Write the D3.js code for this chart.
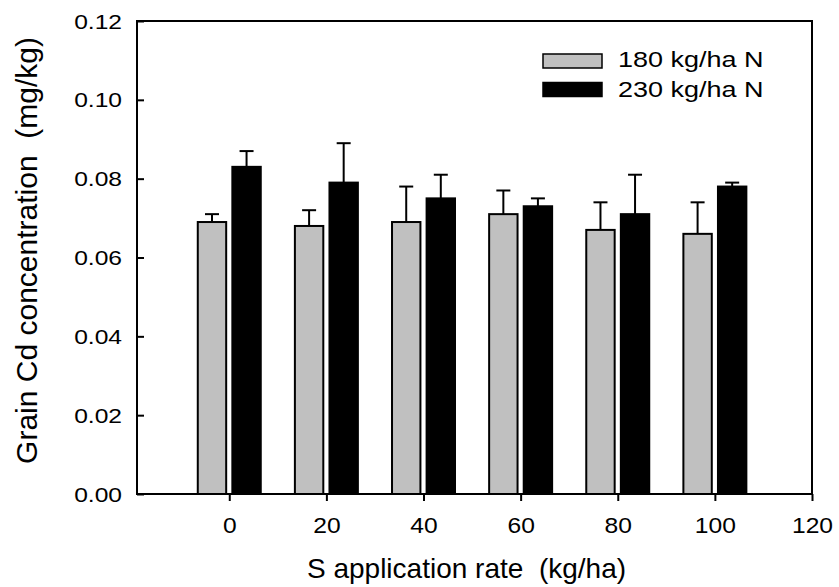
<!DOCTYPE html>
<html>
<head>
<meta charset="utf-8">
<script src="https://cdn.jsdelivr.net/npm/d3@7"></script>
<style>
  body { margin: 0; background: #fff; }
  text { font-family: "Liberation Sans", Arial, sans-serif; fill: #000; white-space: pre; }
</style>
</head>
<body>
<div id="chart"></div>
<script>
// data
var rates = [0, 20, 40, 60, 80, 100];
var n180 = [0.069, 0.068, 0.069, 0.071, 0.067, 0.066];
var n180err = [0.002, 0.004, 0.009, 0.006, 0.007, 0.008];
var n230 = [0.083, 0.079, 0.075, 0.073, 0.071, 0.078];
var n230err = [0.004, 0.010, 0.006, 0.002, 0.010, 0.001];
var xTicks = [0, 20, 40, 60, 80, 100, 120];
var yTicks = [0, 0.02, 0.04, 0.06, 0.08, 0.10, 0.12];
var seriesNames = ["180 kg/ha N", "230 kg/ha N"];
var seriesColors = ["#c0c0c0", "#000000"];

var svgWidth = 839;
var svgHeight = 587;
var margin = { top: 21, right: 27, bottom: 93, left: 137 };
var width = svgWidth - margin.left - margin.right;
var height = svgHeight - margin.top - margin.bottom;

var svg = d3.select("#chart")
  .append("svg")
  .attr("width", svgWidth)
  .attr("height", svgHeight);

var chartGroup = svg.append("g")
  .attr("transform", `translate(${margin.left}, ${margin.top})`);

var xScale = d3.scaleLinear().domain([-19, 120]).range([0, width]);
var yScale = d3.scaleLinear().domain([0, 0.12]).range([height, 0]);

// bar layout (in x data units)
var offsets = [-3.56, 3.56];
var barW = 5.85;
var capHalf = 7;

var series = [
  { vals: n180, errs: n180err },
  { vals: n230, errs: n230err }
];

series.forEach(function(s, i) {
  var rows = rates.map((r, j) => ({ x: r, v: s.vals[j], e: s.errs[j] }));
  var g = chartGroup.append("g");

  // error bars (upper only)
  g.selectAll("line.err")
    .data(rows)
    .enter()
    .append("line")
    .attr("x1", d => xScale(d.x + offsets[i]))
    .attr("x2", d => xScale(d.x + offsets[i]))
    .attr("y1", d => yScale(d.v))
    .attr("y2", d => yScale(d.v + d.e))
    .attr("stroke", "#000")
    .attr("stroke-width", 2);

  g.selectAll("line.cap")
    .data(rows)
    .enter()
    .append("line")
    .attr("x1", d => xScale(d.x + offsets[i]) - capHalf)
    .attr("x2", d => xScale(d.x + offsets[i]) + capHalf)
    .attr("y1", d => yScale(d.v + d.e))
    .attr("y2", d => yScale(d.v + d.e))
    .attr("stroke", "#000")
    .attr("stroke-width", 2);

  g.selectAll("rect")
    .data(rows)
    .enter()
    .append("rect")
    .attr("x", d => xScale(d.x + offsets[i] - barW / 2))
    .attr("width", xScale(barW) - xScale(0))
    .attr("y", d => yScale(d.v))
    .attr("height", d => height - yScale(d.v))
    .attr("fill", seriesColors[i])
    .attr("stroke", "#000")
    .attr("stroke-width", 2);
});

// frame
chartGroup.append("rect")
  .attr("width", width)
  .attr("height", height)
  .attr("fill", "none")
  .attr("stroke", "#000")
  .attr("stroke-width", 2);

// axes
var bottomAxis = d3.axisBottom(xScale).tickValues(xTicks).tickSize(7).tickPadding(16).tickFormat(d3.format("d"));
var leftAxis = d3.axisRight(yScale).tickValues(yTicks).tickSize(7).tickFormat(d3.format(".2f"));

var xg = chartGroup.append("g")
  .attr("transform", `translate(0, ${height})`)
  .call(bottomAxis);
xg.select(".domain").remove();
xg.selectAll("line").attr("stroke-width", 2);
// tick labels stretched a bit horizontally, like the original export
xg.selectAll(".tick text")
  .attr("font-size", 22)
  .attr("transform", "scale(1.12,1)");

var yg = chartGroup.append("g").call(leftAxis);
yg.select(".domain").remove();
yg.selectAll("line").attr("stroke-width", 2);
yg.selectAll("text").remove();

yg.selectAll(".tick").append("text")
  .attr("transform", "translate(-15, 7) scale(1.2,1)")
  .attr("text-anchor", "end")
  .attr("font-size", 20.5)
  .text(d => d3.format(".2f")(d));

// axis titles
chartGroup.append("text")
  .attr("transform", `translate(${-margin.left + 37}, ${height / 2 - 7}) rotate(-90)`)
  .attr("text-anchor", "middle")
  .attr("font-size", 30)
  .text("Grain Cd concentration  (mg/kg)");

chartGroup.append("text")
  .attr("transform", `translate(${width / 2 - 8}, ${height + 84})`)
  .attr("text-anchor", "middle")
  .attr("font-size", 28)
  .text("S application rate  (kg/ha)");

// legend
var legend = svg.append("g").attr("transform", "translate(543, 54)");
seriesNames.forEach(function(name, i) {
  legend.append("rect")
    .attr("x", 0)
    .attr("y", i * 28.5)
    .attr("width", 59)
    .attr("height", 14)
    .attr("fill", seriesColors[i])
    .attr("stroke", "#000")
    .attr("stroke-width", 1.5);
  legend.append("text")
    .attr("transform", `translate(75, ${i * 29.5 + 13}) scale(1.2,1)`)
    .attr("font-size", 22.5)
    .text(name);
});
</script>
</body>
</html>
